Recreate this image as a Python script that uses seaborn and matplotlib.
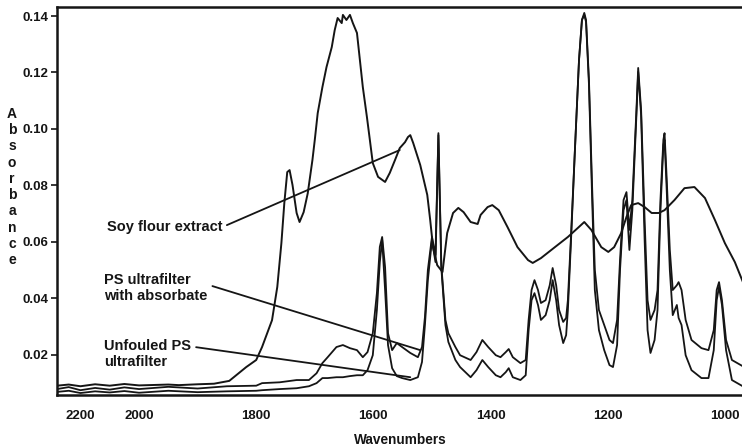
import numpy as np
import pandas as pd
import matplotlib
matplotlib.use("Agg")
import matplotlib.pyplot as plt
import seaborn as sns

# wavenumber grids (cm-1) and absorbance
soy_wn = [2280, 2240, 2200, 2150, 2100, 2050, 2000, 1950, 1932, 1900,
          1872, 1846, 1817, 1800, 1790, 1773, 1764, 1757, 1752, 1747,
          1743, 1738, 1731, 1726, 1719, 1712, 1704, 1700, 1695, 1687,
          1680, 1671, 1666, 1661, 1654, 1652, 1646, 1640, 1635, 1628,
          1623, 1618, 1611, 1606, 1601, 1592, 1580, 1572, 1563, 1555,
          1546, 1541, 1537, 1532, 1520, 1508, 1503, 1498, 1491, 1482,
          1474, 1464, 1455, 1446, 1434, 1422, 1417, 1405, 1397, 1386,
          1371, 1354, 1336, 1328, 1314, 1292, 1268, 1251, 1240, 1228,
          1211, 1199, 1189, 1177, 1168, 1160, 1148, 1137, 1125, 1113,
          1103, 1086, 1069, 1052, 1034, 1017, 1000, 983, 967]
soy_abs = [0.0090, 0.0094, 0.0088, 0.0095, 0.0090, 0.0096, 0.0091, 0.0094, 0.0092, 0.0095,
           0.0097, 0.0107, 0.0156, 0.0181, 0.0227, 0.0322, 0.0440, 0.0595, 0.0737, 0.0847,
           0.0854, 0.0801, 0.0702, 0.0670, 0.0705, 0.0772, 0.0890, 0.0961, 0.1056, 0.1148,
           0.1219, 0.1290, 0.1350, 0.1393, 0.1375, 0.1404, 0.1386, 0.1404, 0.1375, 0.1340,
           0.1244, 0.1148, 0.1042, 0.0961, 0.0879, 0.0830, 0.0812, 0.0844, 0.0890, 0.0932,
           0.0953, 0.0971, 0.0978, 0.0950, 0.0872, 0.0766, 0.0677, 0.0578, 0.0517, 0.0493,
           0.0631, 0.0702, 0.0720, 0.0705, 0.0670, 0.0663, 0.0695, 0.0723, 0.0730, 0.0712,
           0.0652, 0.0581, 0.0535, 0.0525, 0.0542, 0.0578, 0.0617, 0.0649, 0.0670, 0.0642,
           0.0581, 0.0564, 0.0581, 0.0631, 0.0688, 0.0730, 0.0737, 0.0723, 0.0702, 0.0702,
           0.0712, 0.0748, 0.0790, 0.0794, 0.0755, 0.0677, 0.0595, 0.0528, 0.0446]

ps_wn = [2280, 2240, 2200, 2150, 2100, 2050, 2000, 1950, 1900, 1850,
         1800, 1790, 1760, 1731, 1710, 1697, 1687, 1678, 1663, 1652,
         1640, 1628, 1618, 1610, 1601, 1594, 1589, 1585, 1580, 1575,
         1568, 1560, 1551, 1537, 1524, 1517, 1512, 1507, 1500, 1494,
         1489, 1484, 1477, 1472, 1460, 1452, 1434, 1424, 1414, 1404,
         1391, 1383, 1374, 1369, 1362, 1349, 1340, 1335, 1330, 1325,
         1319, 1314, 1306, 1299, 1294, 1288, 1283, 1276, 1271, 1268,
         1263, 1256, 1249, 1244, 1240, 1237, 1232, 1227, 1222, 1215,
         1206, 1197, 1191, 1184, 1179, 1173, 1168, 1163, 1158, 1151,
         1148, 1143, 1137, 1132, 1127, 1120, 1115, 1110, 1105, 1103,
         1100, 1094, 1089, 1082, 1079, 1074, 1067, 1057, 1040, 1028,
         1019, 1014, 1010, 1005, 998, 988, 967]
ps_fouled_abs = [0.0078, 0.0085, 0.0074, 0.0082, 0.0076, 0.0084, 0.0078, 0.0086, 0.0080, 0.0088,
                 0.0090, 0.0099, 0.0102, 0.0110, 0.0110, 0.0134, 0.0170, 0.0191, 0.0227, 0.0234,
                 0.0223, 0.0216, 0.0191, 0.0209, 0.0276, 0.0418, 0.0582, 0.0617, 0.0510, 0.0276,
                 0.0216, 0.0241, 0.0227, 0.0206, 0.0191, 0.0227, 0.0333, 0.0500, 0.0617, 0.0553,
                 0.0985, 0.0517, 0.0323, 0.0276, 0.0227, 0.0198, 0.0181, 0.0209, 0.0252, 0.0227,
                 0.0198, 0.0191, 0.0209, 0.0220, 0.0191, 0.0170, 0.0181, 0.0323, 0.0429, 0.0464,
                 0.0429, 0.0383, 0.0393, 0.0446, 0.0507, 0.0446, 0.0358, 0.0316, 0.0330, 0.0393,
                 0.0606, 0.0925, 0.1244, 0.1386, 0.1411, 0.1386, 0.1173, 0.0819, 0.0500, 0.0358,
                 0.0305, 0.0252, 0.0241, 0.0323, 0.0535, 0.0748, 0.0776, 0.0642, 0.0748, 0.1067,
                 0.1216, 0.1067, 0.0677, 0.0393, 0.0323, 0.0358, 0.0429, 0.0748, 0.0961, 0.0985,
                 0.0854, 0.0571, 0.0429, 0.0446, 0.0457, 0.0429, 0.0323, 0.0252, 0.0223, 0.0216,
                 0.0287, 0.0429, 0.0457, 0.0393, 0.0252, 0.0181, 0.0156]
ps_clean_abs = [0.0068, 0.0072, 0.0064, 0.0070, 0.0066, 0.0071, 0.0065, 0.0072, 0.0067, 0.0070,
                0.0072, 0.0074, 0.0078, 0.0081, 0.0088, 0.0099, 0.0117, 0.0117, 0.0120, 0.0120,
                0.0124, 0.0127, 0.0127, 0.0145, 0.0198, 0.0358, 0.0528, 0.0606, 0.0429, 0.0234,
                0.0152, 0.0124, 0.0117, 0.0110, 0.0120, 0.0174, 0.0305, 0.0464, 0.0606, 0.0528,
                0.0978, 0.0507, 0.0305, 0.0245, 0.0181, 0.0156, 0.0120, 0.0145, 0.0181, 0.0156,
                0.0127, 0.0120, 0.0138, 0.0152, 0.0120, 0.0110, 0.0127, 0.0287, 0.0393, 0.0418,
                0.0376, 0.0323, 0.0340, 0.0393, 0.0464, 0.0393, 0.0305, 0.0241, 0.0269, 0.0358,
                0.0588, 0.0925, 0.1244, 0.1386, 0.1404, 0.1379, 0.1156, 0.0783, 0.0429, 0.0287,
                0.0216, 0.0163, 0.0156, 0.0234, 0.0500, 0.0712, 0.0748, 0.0571, 0.0712, 0.1049,
                0.1202, 0.1049, 0.0606, 0.0287, 0.0206, 0.0252, 0.0358, 0.0712, 0.0943, 0.0961,
                0.0819, 0.0500, 0.0340, 0.0376, 0.0330, 0.0305, 0.0198, 0.0145, 0.0117, 0.0117,
                0.0216, 0.0393, 0.0440, 0.0376, 0.0216, 0.0110, 0.0085]

x_ticks = [2200, 2000, 1800, 1600, 1400, 1200, 1000]
y_ticks = [0.02, 0.04, 0.06, 0.08, 0.10, 0.12, 0.14]
y_tick_labels = ["0.02", "0.04", "0.06", "0.08", "0.10", "0.12", "0.14"]

# label text, where the text block starts (wn, abs), where the leader line ends
labels = ["Soy flour extract", "PS ultrafilter\nwith absorbate", "Unfouled PS\nultrafilter"]
label_text_pos = [(2110, 0.0652), (2118, 0.0437), (2118, 0.0202)]
label_tip_pos = [(1555, 0.0925), (1520, 0.0216), (1537, 0.0120)]
label_leader_from = [(1, 0.5), (0.86, 0.75), (1, 0.75)]

soy = pd.DataFrame({"wn": soy_wn, "abs": soy_abs})
ps = pd.DataFrame({"wn": ps_wn, "fouled": ps_fouled_abs, "clean": ps_clean_abs})

sns.set_style("ticks")
plt.rcParams["font.family"] = ["Liberation Sans", "DejaVu Sans"]

ink = "#151515"
fig = plt.figure(figsize=(7.42, 4.47), dpi=100)
ax = fig.add_axes([57 / 742, 1 - 395 / 447, 1 - 57 / 742 + 0.003, (395 - 7) / 447])


# the instrument compresses the axis above 2000 cm-1 to half scale
def fwd(w):
    w = np.asarray(w, dtype=float)
    return np.where(w > 2000, 2000 + 0.5 * (w - 2000), w)


def inv(u):
    u = np.asarray(u, dtype=float)
    return np.where(u > 2000, 2000 + 2 * (u - 2000), u)


ax.set_xscale("function", functions=(fwd, inv))

sns.lineplot(data=soy, x="wn", y="abs", ax=ax, color=ink, lw=1.4, estimator=None)
sns.lineplot(data=ps, x="wn", y="fouled", ax=ax, color=ink, lw=1.3, estimator=None)
sns.lineplot(data=ps, x="wn", y="clean", ax=ax, color=ink, lw=1.3, estimator=None)

ax.set_xlim(2280, 967)
ax.set_ylim(0.0057, 0.1432)

ax.set_xticks(x_ticks)
ax.set_xticklabels([str(t) for t in x_ticks])
ax.set_yticks(y_ticks)
ax.set_yticklabels(y_tick_labels)
ax.xaxis.set_minor_locator(matplotlib.ticker.NullLocator())
ax.tick_params(axis="x", length=0, pad=11, labelsize=9.5, colors=ink)
ax.tick_params(axis="y", length=4, width=1.2, pad=2, labelsize=9.5, colors=ink)
for lab in ax.get_xticklabels() + ax.get_yticklabels():
    lab.set_fontweight("bold")

for side in ["left", "bottom", "top"]:
    ax.spines[side].set_visible(True)
    ax.spines[side].set_linewidth(1.8)
    ax.spines[side].set_color(ink)
ax.spines["right"].set_visible(False)

ax.set_xlabel("Wavenumbers", fontsize=9.8, fontweight="bold", color=ink, labelpad=8)
ax.set_ylabel("")

for text, (tx, ty), (px, py), rel in zip(labels, label_text_pos, label_tip_pos, label_leader_from):
    ax.annotate(text, xy=(px, py), xytext=(tx, ty), ha="left", va="center",
                multialignment="left", fontsize=10.5, fontweight="bold", color=ink,
                linespacing=1.2,
                arrowprops=dict(arrowstyle="-", color=ink, lw=1.3, relpos=rel,
                                shrinkA=1, shrinkB=0))

fig.text(12 / 742, 1 - 187 / 447, "\n".join("Absorbance"), ha="center", va="center",
         fontsize=10, fontweight="bold", color=ink, linespacing=1.2)

fig.savefig("out.png", dpi=100)
